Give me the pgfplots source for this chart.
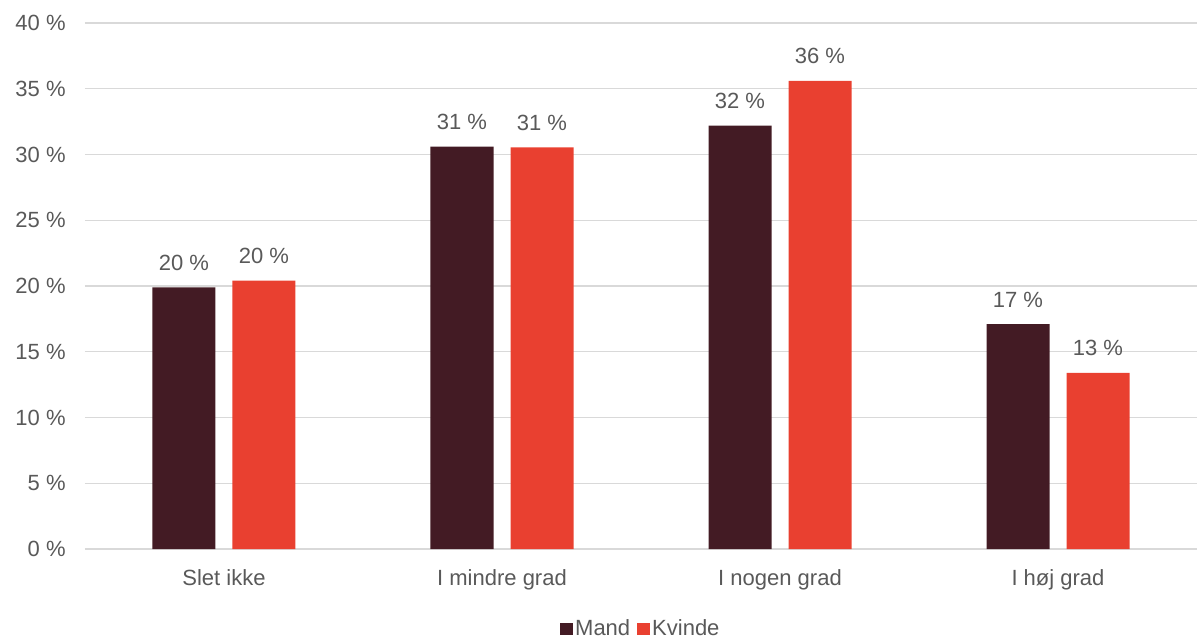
\documentclass[border=0pt]{standalone}
\usepackage{pgfplots}
\pgfplotsset{compat=1.18}
\usepackage{fontspec}
\setmainfont{Liberation Sans}
\definecolor{mand}{HTML}{431B24}
\definecolor{kvinde}{HTML}{E94030}
\definecolor{txt}{HTML}{595959}
\definecolor{gridc}{HTML}{D9D9D9}
\begin{document}
\begin{tikzpicture}
\begin{axis}[
    scale only axis,
    width=834pt, height=394.5pt,
    ybar=12.75pt, bar width=47.25pt,
    xmin=-0.5, xmax=3.5,
    ymin=0, ymax=40,
    ytick={0,5,...,40},
    xtick=data,
    xticklabels={Slet ikke, I mindre grad, I nogen grad, I høj grad},
    yticklabel={\pgfmathprintnumber{\tick}~\%},
    /pgf/number format/assume math mode=true,
    major tick length=0,
    axis lines*=left,
    axis line style={-},
    x axis line style={gridc, line width=0.9pt},
    y axis line style={draw=none},
    ymajorgrids, grid style={gridc, line width=0.9pt},
    tick label style={font=\fontsize{16.5pt}{19pt}\selectfont, text=txt},
    yticklabel style={xshift=-11pt},
    xticklabel style={yshift=-12pt},
    nodes near coords={\pgfmathprintnumber[fixed,precision=0]{\pgfplotspointmeta}~\%},
    every node near coord/.append style={font=\fontsize{16.5pt}{19pt}\selectfont, text=txt, yshift=9pt},
    legend style={at={(0.5,-0.152)}, anchor=center, draw=none, legend columns=2,
        font=\fontsize{16.5pt}{19pt}\selectfont, text=txt,
        /tikz/every even column/.append style={column sep=3pt}},
    legend image code/.code={\fill[#1] (0pt,-4.75pt) rectangle (9.5pt,4.75pt);},
]
\addplot[fill=mand, draw=none] coordinates {(0,19.9) (1,30.6) (2,32.2) (3,17.1)};
\addplot[fill=kvinde, draw=none] coordinates {(0,20.4) (1,30.55) (2,35.6) (3,13.4)};
\legend{Mand, Kvinde}
\end{axis}
\pgfresetboundingbox
\path (current axis.south west) ++(-63.75pt,-68.25pt) rectangle ++(897.75pt,480pt);
\end{tikzpicture}
\end{document}
